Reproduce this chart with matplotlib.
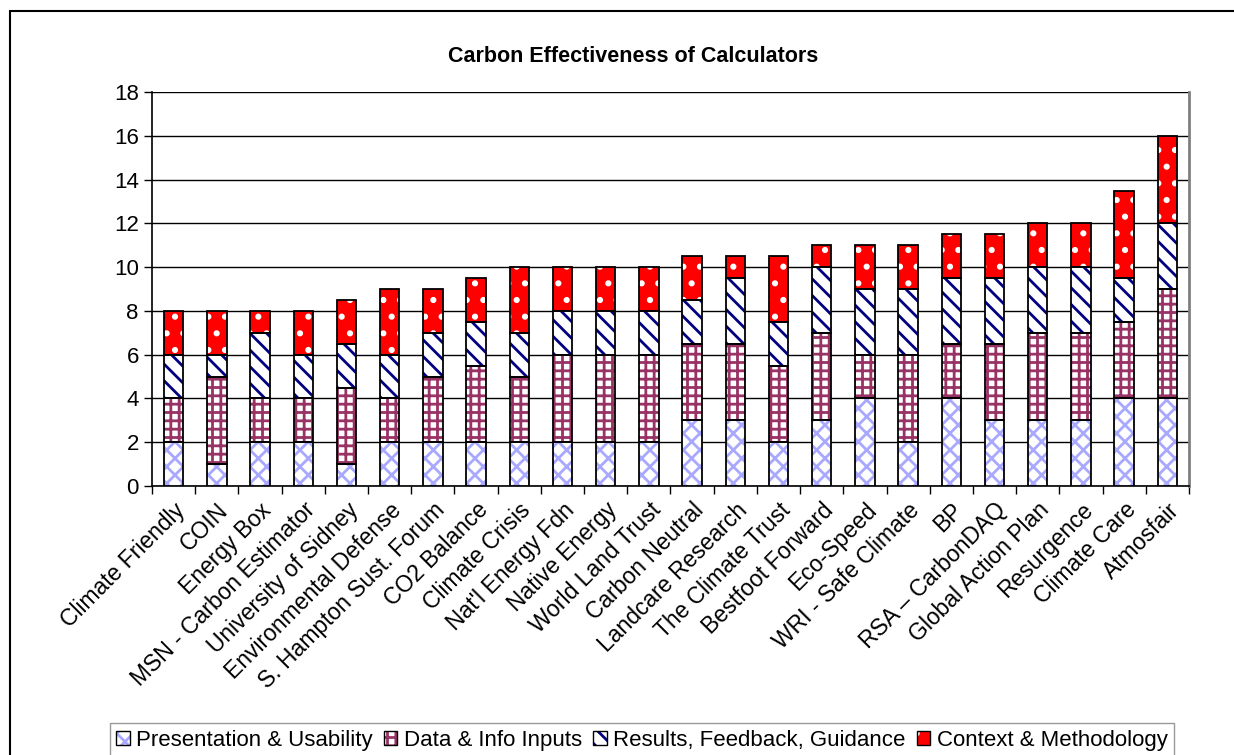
import matplotlib
matplotlib.use("Agg")
import matplotlib.pyplot as plt
from matplotlib.patches import Patch, Rectangle
from matplotlib.legend_handler import HandlerTuple
import numpy as np

# ── DATA ─────────────────────────────────────
calculators = [
    "Climate Friendly", "COIN", "Energy Box", "MSN - Carbon Estimator",
    "University of Sidney", "Environmental Defense", "S. Hampton Sust. Forum",
    "CO2 Balance", "Climate Crisis", "Nat'l Energy Fdn", "Native Energy",
    "World Land Trust", "Carbon Neutral", "Landcare Research",
    "The Climate Trust", "Bestfoot Forward", "Eco-Speed", "WRI - Safe Climate",
    "BP", "RSA \u2013 CarbonDAQ", "Global Action Plan", "Resurgence",
    "Climate Care", "Atmosfair",
]
presentation = [2, 1, 2, 2, 1, 2, 2, 2, 2, 2, 2, 2, 3, 3, 2, 3, 4, 2, 4, 3, 3, 3, 4, 4]
data_inputs  = [2, 4, 2, 2, 3.5, 2, 3, 3.5, 3, 4, 4, 4, 3.5, 3.5, 3.5, 4, 2, 4, 2.5, 3.5, 4, 4, 3.5, 5]
results      = [2, 1, 3, 2, 2, 2, 2, 2, 2, 2, 2, 2, 2, 3, 2, 3, 3, 3, 3, 3, 3, 3, 2, 3]
context      = [2, 2, 1, 2, 2, 3, 2, 2, 3, 2, 2, 2, 2, 1, 3, 1, 2, 2, 2, 2, 2, 2, 4, 4]

series_names = ["Presentation & Usability", "Data & Info Inputs",
                "Results, Feedback, Guidance", "Context & Methodology"]

# ── STYLE ────────────────────────────────────
plt.rcParams['font.family'] = ['Liberation Sans', 'DejaVu Sans']
plt.rcParams['hatch.linewidth'] = 2.0

# (face, hatch colour, hatch)
styles = [
    ('white',   '#a8a8ff', 'xx'),
    ('white',   '#993366', '++'),
    ('white',   '#000080', '\\\\'),
    ('#ff0000', 'white',   '.'),
]

fig = plt.figure(figsize=(12.34, 7.55), dpi=100)
fig.patch.set_facecolor('white')

# outer chart border
fig.patches.append(Rectangle((10 / 1234, -0.05), 1.2, 1 - 11 / 755 + 0.05,
                             transform=fig.transFigure, fill=False,
                             edgecolor='black', linewidth=1.5))

ax = fig.add_axes([152 / 1234, 1 - 486 / 755, (1189 - 152) / 1234, (486 - 92) / 755])

x = np.arange(len(calculators))
width = 0.45
bottom = np.zeros(len(calculators))
handles = []
for vals, name, (face, hcol, hatch) in zip(
        [presentation, data_inputs, results, context], series_names, styles):
    vals = np.array(vals, dtype=float)
    ax.bar(x, vals, width, bottom=bottom, color=face, edgecolor=hcol,
           hatch=hatch, linewidth=0, zorder=3)
    ax.bar(x, vals, width, bottom=bottom, fill=False, edgecolor='black',
           linewidth=1.3, zorder=4)
    bottom += vals
    handles.append((Patch(facecolor=face, edgecolor=hcol, hatch=hatch, linewidth=0),
                    Patch(fill=False, edgecolor='black', linewidth=1.0)))

ax.set_xlim(-0.5, len(calculators) - 0.5)
ax.set_ylim(0, 18)
ax.set_yticks(range(0, 19, 2))
ax.yaxis.grid(True, color='black', linewidth=1.0, zorder=0)
ax.set_axisbelow(True)

ax.set_xticks(np.arange(-0.5, len(calculators), 1.0), minor=False)
ax.set_xticklabels([])
ax.set_xticks(x, minor=True)
ax.set_xticklabels(calculators, minor=True, rotation=45, ha='right',
                   rotation_mode='anchor', fontsize=16.5)
ax.tick_params(axis='x', which='minor', length=0, pad=9)
ax.tick_params(axis='x', which='major', length=6, direction='out', width=1)
ax.tick_params(axis='y', labelsize=16, length=6, width=1)

ax.spines['top'].set_visible(False)
ax.spines['right'].set_color('#808080')
ax.spines['right'].set_linewidth(2)
ax.spines['left'].set_linewidth(1.2)
ax.spines['bottom'].set_linewidth(1.2)

fig.text(633 / 1234, 1 - 57 / 755, "Carbon Effectiveness of Calculators",
         ha='center', va='center', fontsize=15.5, fontweight='bold')

leg = fig.legend(handles=handles, labels=series_names, loc='lower center', ncol=4,
                 handler_map={tuple: HandlerTuple(ndivide=1)},
                 bbox_to_anchor=(642 / 1234, -0.012), fontsize=16,
                 frameon=True, fancybox=False, edgecolor='#808080',
                 handlelength=0.6, handleheight=0.6, handletextpad=0.3,
                 columnspacing=0.5, borderpad=0.3, borderaxespad=0.3)
leg.get_frame().set_linewidth(1.0)

plt.savefig("out.png", dpi=100, facecolor='white')
